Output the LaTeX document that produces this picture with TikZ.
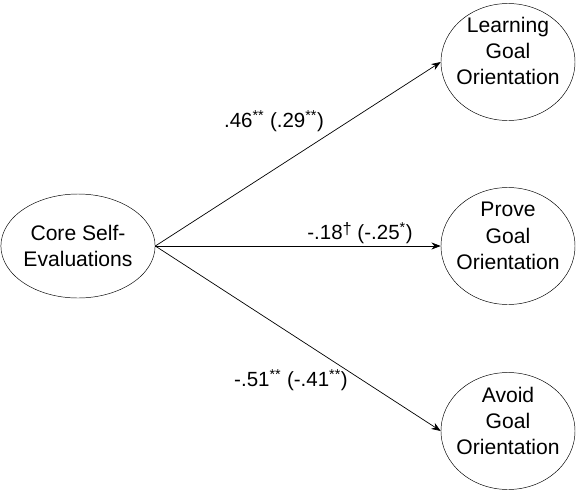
\documentclass[tikz,border=0pt]{standalone}
\usepackage{fontspec}
\setmainfont{Liberation Sans}
\usetikzlibrary{shapes.geometric,arrows.meta}

\tikzset{
  construct/.style={draw, ellipse, inner sep=0pt, align=center,
    font=\fontsize{18}{22.5}\selectfont},
  goal/.style={construct, minimum width=4.02cm, minimum height=3.51cm},
  goaltext/.style={align=center, inner sep=0pt, font=\fontsize{18}{22.5}\selectfont},
  path/.style={-{Stealth[length=8pt,width=6pt]}, line width=0.6pt},
  coef/.style={font=\fontsize{17.5}{21}\selectfont}
}

\begin{document}
\begin{tikzpicture}[x=0.03cm, y=-0.03cm]
        \useasboundingbox (0,0) rectangle (576,491);

        % Predictor
        \node[construct, minimum width=4.26cm, minimum height=3.12cm] (cse) at (78,246) {Core Self-\\Evaluations};

        % Goal orientations
        \node[goal] (learn) at (508,62) {};
        \node[goal] (prove) at (508,246) {};
        \node[goal] (avoid) at (508,431) {};
        \node[goaltext] (learntxt) at ([yshift=0.33cm]learn.center) {Learning\\Goal\\Orientation};
        \node[goaltext] (provetxt) at ([yshift=0.3cm]prove.center) {Prove\\Goal\\Orientation};
        \node[goaltext] (avoidtxt) at ([yshift=0.3cm]avoid.center) {Avoid\\Goal\\Orientation};

        % Paths
        \draw[path] (cse.east) -- (learn.west);
        \draw[path] (cse.east) -- (prove.west);
        \draw[path] (cse.east) -- (avoid.west);

        % Coefficients
        \node[coef] (c1) at (274,121) {.46\textsuperscript{**} (.29\textsuperscript{**})};
        \node[coef] (c2) at (360,233) {-.18\raisebox{0.45ex}{\scalebox{0.8}{†}} (-.25\textsuperscript{*})};
        \node[coef] (c3) at (291,380) {-.51\textsuperscript{**} (-.41\textsuperscript{**})};
    \end{tikzpicture}
\end{document}
